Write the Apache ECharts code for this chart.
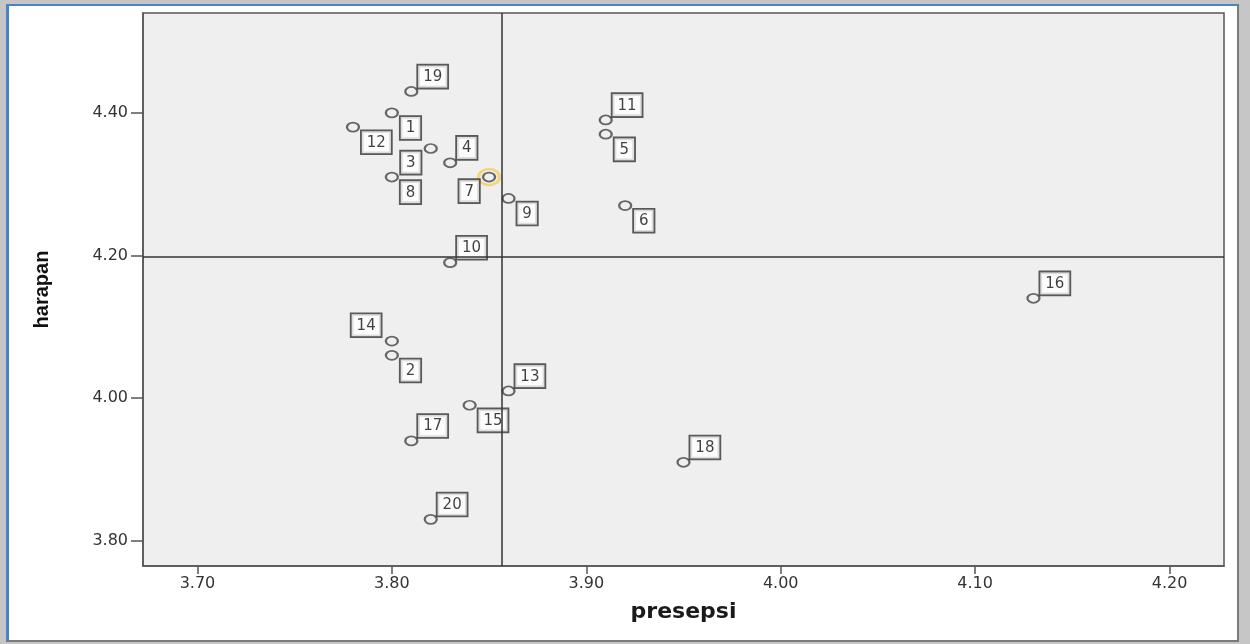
<!DOCTYPE html>
<html>
<head>
<meta charset="utf-8">
<title>presepsi vs harapan</title>
<script src="https://cdn.jsdelivr.net/npm/echarts@6/dist/echarts.min.js"></script>
<style>
  html, body { margin: 0; padding: 0; }
  body {
    width: 1250px; height: 644px; position: relative; overflow: hidden;
    background: #c6c6c6;
  }
  #frame {
    position: absolute; left: 6px; top: 4px; width: 1233px; height: 638px;
    box-sizing: border-box; background: #fff;
    border-top: 2px solid #4a84c4; border-left: 3px solid #4a84c4;
    border-right: 2px solid #7a7a7a; border-bottom: 2px solid #7a7a7a;
  }
  #main { position: absolute; left: 0; top: 0; width: 1250px; height: 644px; }
</style>
</head>
<body>
<div id="frame"></div>
<div id="main"></div>
<script>
  // case numbers, presepsi (x) and harapan (y)
  const caseIds  = [1, 2, 3, 4, 5, 6, 7, 8, 9, 10, 11, 12, 13, 14, 15, 16, 17, 18, 19, 20];
  const presepsi = [3.80, 3.80, 3.82, 3.83, 3.91, 3.92, 3.85, 3.80, 3.86, 3.83,
                    3.91, 3.78, 3.86, 3.80, 3.84, 4.13, 3.81, 3.95, 3.81, 3.82];
  const harapan  = [4.40, 4.06, 4.35, 4.33, 4.37, 4.27, 4.31, 4.31, 4.28, 4.19,
                    4.39, 4.38, 4.01, 4.08, 3.99, 4.14, 3.94, 3.91, 4.43, 3.83];
  // where each case label sits relative to its point (ur / lr / ll / ul)
  const labelSide = ['lr', 'lr', 'll', 'ur', 'lr', 'lr', 'll', 'lr', 'lr', 'ur',
                     'ur', 'lr', 'ur', 'ul', 'lr', 'ur', 'ur', 'ur', 'ur', 'ur'];
  const selectedCase = 7;

  const xTicks = [3.70, 3.80, 3.90, 4.00, 4.10, 4.20];
  const yTicks = [3.80, 4.00, 4.20, 4.40];

  const mean = arr => arr.reduce((a, b) => a + b, 0) / arr.length;
  const meanX = mean(presepsi);
  const meanY = mean(harapan);

  const sideLabel = {
    ur: { position: [14, 1.5], align: 'left', verticalAlign: 'bottom' },
    lr: { position: [16, 9.5], align: 'left', verticalAlign: 'top' },
    ll: { position: [-3, 8.5], align: 'right', verticalAlign: 'top' },
    ul: { position: [-4, 0.5], align: 'right', verticalAlign: 'bottom' }
  };

  const points = caseIds.map((id, i) => ({
    name: String(id),
    value: [presepsi[i], harapan[i]],
    label: sideLabel[labelSide[i]]
  }));

  const sel = caseIds.indexOf(selectedCase);

  const chart = echarts.init(document.getElementById('main'));

  chart.setOption({
    animation: false,
    backgroundColor: 'transparent',
    grid: {
      left: 143, right: 26, top: 13, bottom: 78,
      show: true,
      backgroundColor: '#efefef',
      borderColor: '#555',
      borderWidth: 1.5
    },
    xAxis: {
      type: 'value',
      min: 3.672,
      max: 4.228,
      name: 'presepsi',
      nameLocation: 'middle',
      nameGap: 35,
      nameTextStyle: { fontFamily: 'DejaVu Sans', fontWeight: 'bold', fontSize: 22, color: '#1a1a1a' },
      axisLine: { show: true, lineStyle: { color: '#555', width: 1.5 } },
      axisTick: { show: true, length: 8, customValues: xTicks, lineStyle: { color: '#555', width: 1.5 } },
      axisLabel: {
        customValues: xTicks,
        margin: 10,
        fontFamily: 'DejaVu Sans', fontSize: 16, color: '#333',
        formatter: v => v.toFixed(2)
      },
      splitLine: { show: false }
    },
    yAxis: {
      type: 'value',
      min: 3.7646,
      max: 4.540,
      name: 'harapan',
      nameLocation: 'middle',
      nameGap: 91,
      nameTextStyle: { fontFamily: "'Liberation Sans Narrow', 'Liberation Sans', sans-serif", fontWeight: 'bold', fontSize: 20, color: '#111' },
      axisLine: { show: true, lineStyle: { color: '#555', width: 1.5 } },
      axisTick: { show: true, length: 12, customValues: yTicks, lineStyle: { color: '#555', width: 1.5 } },
      axisLabel: {
        customValues: yTicks,
        margin: 15,
        fontFamily: 'DejaVu Sans', fontSize: 16, color: '#333',
        formatter: v => v.toFixed(2)
      },
      splitLine: { show: false }
    },
    series: [
      {
        // highlight ring around the selected case
        type: 'scatter',
        silent: true,
        symbol: 'circle',
        symbolSize: [21, 16],
        z: 1,
        itemStyle: { color: 'rgba(0,0,0,0)', borderColor: '#f2cf62', borderWidth: 3 },
        data: [[presepsi[sel], harapan[sel]]]
      },
      {
        type: 'scatter',
        symbol: 'circle',
        symbolSize: [12, 9],
        z: 3,
        itemStyle: { color: 'rgba(0,0,0,0)', borderColor: '#444', borderWidth: 2 },
        label: {
          show: true,
          formatter: '{b}',
          fontFamily: 'DejaVu Sans',
          fontSize: 15,
          lineHeight: 17,
          color: '#111',
          backgroundColor: '#fff',
          borderColor: '#333',
          borderWidth: 1.8,
          padding: [3, 5, 2, 5]
        },
        data: points,
        markLine: {
          silent: true,
          symbol: 'none',
          precision: 4,
          label: { show: false },
          lineStyle: { color: '#333', width: 1.5, type: 'solid' },
          data: [{ xAxis: meanX }, { yAxis: meanY }]
        }
      }
    ]
  });
</script>
</body>
</html>
